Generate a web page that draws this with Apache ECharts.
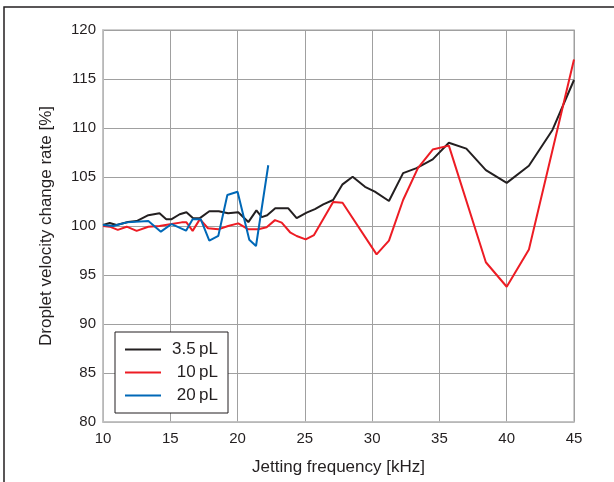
<!DOCTYPE html>
<html>
<head>
<meta charset="utf-8">
<script src="https://cdn.jsdelivr.net/npm/echarts@6/dist/echarts.min.js"></script>
<style>
  html, body { margin: 0; padding: 0; background: #fff; }
  #chart { width: 614px; height: 482px; }
</style>
</head>
<body>
<div id="chart"></div>
<script>
// values
var names = ['3.5\u2009pL', '10\u2009pL', '20\u2009pL'];

var xBlack = [10, 10.5, 11.0, 11.86, 12.5, 13.37, 14.2, 14.7, 15.1, 15.7, 16.2, 16.7, 17.2, 17.9, 18.6, 19.3, 20.05, 20.8, 21.4, 21.8, 22.2, 22.8, 23.77, 24.39, 25.13, 25.75, 26.37, 27.1, 27.8, 28.55, 29.47, 30.2, 31.25, 32.3, 33.3, 34.5, 35.7, 37.0, 38.45, 40.0, 41.65, 43.4, 45];
var yBlack = [100.1, 100.3, 100.1, 100.4, 100.5, 101.1, 101.3, 100.7, 100.7, 101.2, 101.4, 100.8, 100.8, 101.5, 101.5, 101.3, 101.4, 100.4, 101.6, 100.9, 101.1, 101.8, 101.8, 100.8, 101.36, 101.73, 102.2, 102.65, 104.25, 105.03, 104.0, 103.5, 102.55, 105.4, 105.9, 106.8, 108.5, 107.9, 105.7, 104.4, 106.15, 109.8, 114.9];

var xRed = [10, 10.5, 11.1, 11.76, 12.5, 13.37, 14.2, 15.1, 15.85, 16.2, 16.66, 17.2, 17.8, 18.57, 19.3, 20.05, 20.8, 21.54, 22.16, 22.78, 23.28, 23.9, 24.39, 25.06, 25.68, 27.1, 27.8, 30.33, 31.25, 32.3, 33.4, 34.5, 35.7, 38.45, 40.0, 41.65, 45];
var yRed = [100, 99.93, 99.6, 99.93, 99.5, 99.93, 100, 100.2, 100.37, 100.37, 99.5, 100.7, 99.77, 99.66, 100, 100.27, 99.66, 99.66, 99.87, 100.6, 100.34, 99.36, 98.98, 98.64, 99.08, 102.45, 102.38, 97.1, 98.5, 102.65, 105.9, 107.8, 108.2, 96.3, 93.8, 97.6, 117.0];

var xBlue = [10, 10.77, 11.76, 13.37, 14.3, 15.1, 16.17, 16.66, 17.26, 17.9, 18.57, 19.24, 20.0, 20.87, 21.37, 22.28];
var yBlue = [100.1, 100, 100.37, 100.5, 99.42, 100.2, 99.52, 100.7, 100.7, 98.5, 99.0, 103.16, 103.5, 98.6, 97.96, 106.2];

var xTicks = [10, 15, 20, 25, 30, 35, 40, 45];
var yTicks = [80, 85, 90, 95, 100, 105, 110, 115, 120];

function pairs(xs, ys) {
    var out = [];
    for (var i = 0; i < xs.length; i++) {
        out.push([xs[i], ys[i]]);
    }
    return out;
}

var font = 'Liberation Sans, Arial, sans-serif';
var textColor = '#231f20';

var myChart = echarts.init(document.getElementById('chart'));

var option = {
    backgroundColor: '#fff',
    animation: false,
    textStyle: { fontFamily: font },
    graphic: [{
        type: 'rect',
        shape: { x: 4, y: 7, width: 700, height: 600 },
        style: { fill: 'none', stroke: '#231f20', lineWidth: 1.5 },
        silent: true
    }],
    grid: {
        left: 103,
        right: 40,
        top: 30,
        bottom: 60,
        show: true,
        borderColor: '#c0c0c0',
        borderWidth: 1.5,
        containLabel: false
    },
    legend: {
        orient: 'vertical',
        left: 115,
        top: 332,
        padding: [9, 10, 9, 10],
        icon: 'rect',
        itemWidth: 36,
        itemHeight: 2,
        itemGap: 6,
        borderColor: '#231f20',
        borderWidth: 1,
        backgroundColor: '#fff',
        data: names,
        formatter: function (n) { return '{a|' + n + '}'; },
        textStyle: {
            color: textColor,
            fontSize: 17,
            rich: { a: { width: 52, height: 16, align: 'right', fontSize: 17, color: textColor, fontFamily: font } }
        }
    },
    xAxis: {
        type: 'value',
        min: 10,
        max: 45,
        interval: 5,
        name: 'Jetting frequency [kHz]',
        nameLocation: 'middle',
        nameGap: 37,
        nameTextStyle: { fontSize: 17, color: textColor },
        axisLine: { show: true, lineStyle: { color: '#c0c0c0', width: 1.5 } },
        axisTick: { show: false },
        axisLabel: {
            color: textColor, fontSize: 15, margin: 9,
            formatter: function (v) { return xTicks.indexOf(v) >= 0 ? String(v) : ''; }
        },
        splitLine: { show: true, lineStyle: { color: '#a0a0a0', width: 1 } }
    },
    yAxis: {
        type: 'value',
        min: 80,
        max: 120,
        interval: 5,
        name: 'Droplet velocity change rate [%]',
        nameLocation: 'middle',
        nameGap: 48,
        nameTextStyle: { fontSize: 17, color: textColor },
        axisLine: { show: true, lineStyle: { color: '#c0c0c0', width: 1.5 } },
        axisTick: { show: false },
        axisLabel: {
            color: textColor, fontSize: 15, margin: 7,
            formatter: function (v) { return yTicks.indexOf(v) >= 0 ? String(v) : ''; }
        },
        splitLine: { show: true, lineStyle: { color: '#a0a0a0', width: 1 } }
    },
    series: [
        {
            name: names[0],
            type: 'line',
            symbol: 'none',
            data: pairs(xBlack, yBlack),
            lineStyle: { color: '#231f20', width: 2 },
            itemStyle: { color: '#231f20' }
        },
        {
            name: names[1],
            type: 'line',
            symbol: 'none',
            data: pairs(xRed, yRed),
            lineStyle: { color: '#ed1c24', width: 2 },
            itemStyle: { color: '#ed1c24' }
        },
        {
            name: names[2],
            type: 'line',
            symbol: 'none',
            data: pairs(xBlue, yBlue),
            lineStyle: { color: '#0068b7', width: 2 },
            itemStyle: { color: '#0068b7' }
        }
    ]
};
myChart.setOption(option);
</script>
</body>
</html>
